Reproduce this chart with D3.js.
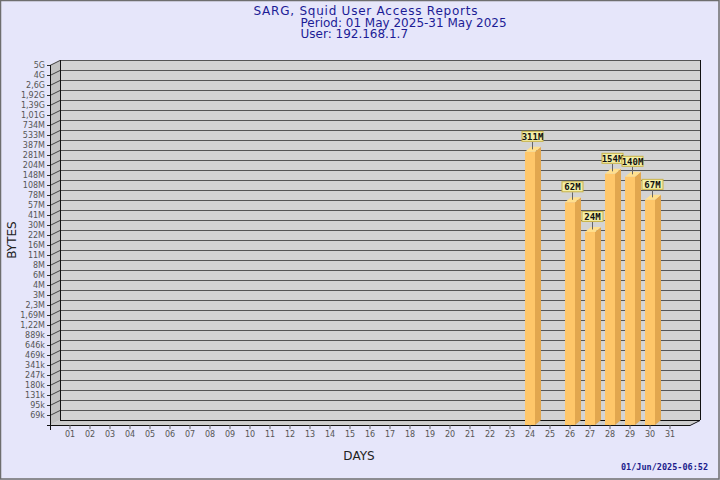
<!DOCTYPE html>
<html><head><meta charset="utf-8">
<script src="https://cdn.jsdelivr.net/npm/d3@7"></script>
<style>body{margin:0;background:#e6e6fa}svg{display:block}</style>
</head><body><svg id="c" width="720" height="480"></svg>
<script>
const titleLines = ["SARG, Squid User Access Reports", "Period: 01 May 2025-31 May 2025", "User: 192.168.1.7"];
const days = ["01","02","03","04","05","06","07","08","09","10","11","12","13","14","15","16","17","18","19","20","21","22","23","24","25","26","27","28","29","30","31"];
const barDays = ["24","26","27","28","29","30"];
const barValues = [311e6, 62e6, 24e6, 154e6, 140e6, 67e6];
const barLabels = ["311M","62M","24M","154M","140M","67M"];
const yTickLabels = ["69k","95k","131k","180k","247k","341k","469k","646k","889k","1,22M","1,69M","2,3M","3M","4M","6M","8M","11M","16M","22M","30M","41M","57M","78M","108M","148M","204M","281M","387M","533M","734M","1,01G","1,39G","1,92G","2,6G","4G","5G"];
const yMin = 5e4, yMax = 5e9;
const xLabel = "DAYS", yLabel = "BYTES", stamp = "01/Jun/2025-06:52";

const svg = d3.select("#c");
const W = 720, H = 480;
const DX = 10, DY = 5;       // wall depth
const BX = 6, BY = 5;        // bar depth
const pL = 50, pR = 690, pT = 65, pB = 425;

svg.append("rect").attr("x",0.5).attr("y",0.5).attr("width",W-1.5).attr("height",H-1.5)
  .attr("fill","#e6e6fa").attr("stroke","#6e6e6e").attr("stroke-width",1.5);

const y = d3.scaleLog().domain([yMin, yMax]).range([pB, pT]);
const x = d3.scaleBand().domain(days).range([pL+DX, pR-DX]);
const tickVals = yTickLabels.map((_, i) => yMin * Math.pow(yMax / yMin, (i + 1) / yTickLabels.length));

// back wall
svg.append("rect").attr("x", pL+DX).attr("y", pT-DY).attr("width", pR-pL).attr("height", pB-pT)
  .attr("fill", "#d3d3d3");
// side wall
svg.append("polygon").attr("points", [[pL,pT],[pL+DX,pT-DY],[pL+DX,pB-DY],[pL,pB]].join(" "))
  .attr("fill", "#c2c2c2");
// floor
svg.append("polygon").attr("points", [[pL,pB],[pL+DX,pB-DY],[pR+DX,pB-DY],[pR,pB]].join(" "))
  .attr("fill", "#cdcdcd");

const g = svg.append("g").attr("shape-rendering","crispEdges");
g.selectAll("line.grid").data(tickVals).join("line").attr("class","grid")
  .attr("x1", pL+DX).attr("x2", pR+DX)
  .attr("y1", d => Math.round(y(d)) - DY + 0.5).attr("y2", d => Math.round(y(d)) - DY + 0.5)
  .attr("stroke", "#555").attr("stroke-width", 1);
svg.selectAll("line.conn").data(tickVals).join("line").attr("class","conn")
  .attr("x1", pL).attr("x2", pL+DX)
  .attr("y1", d => Math.round(y(d)) + 0.5).attr("y2", d => Math.round(y(d)) - DY + 0.5)
  .attr("stroke", "#444").attr("stroke-width", 1);
g.append("line").attr("x1",pL+DX+0.5).attr("x2",pL+DX+0.5).attr("y1",pT-DY).attr("y2",pB-DY).attr("stroke","#111");
g.append("line").attr("x1",pR+DX+0.5).attr("x2",pR+DX+0.5).attr("y1",pT-DY).attr("y2",pB-DY).attr("stroke","#111");
g.append("line").attr("x1",pL+DX).attr("x2",pR+DX).attr("y1",pB-DY+0.5).attr("y2",pB-DY+0.5).attr("stroke","#111");
svg.append("line").attr("x1",pR).attr("x2",pR+DX).attr("y1",pB+0.5).attr("y2",pB-DY+0.5).attr("stroke","#111");

// bars
const bars = barDays.map((d, i) => ({day: d, v: barValues[i], label: barLabels[i]}));
const bw = x.bandwidth();
const bg = svg.append("g");
bars.forEach(b => {
  const c = x(b.day) + bw / 2;
  const yt = y(b.v);
  bg.append("polygon").attr("points", [[c+5,yt],[c+5+BX,yt-BY],[c+5+BX,pB-BY],[c+5,pB]].join(" "))
    .attr("fill", "#e2a74f");
  bg.append("polygon").attr("points", [[c-5,yt],[c-5+BX,yt-BY],[c+5+BX,yt-BY],[c+5,yt]].join(" "))
    .attr("fill", "#ffe08e");
  bg.append("rect").attr("x", c-5).attr("y", yt).attr("width", 10).attr("height", pB-yt)
    .attr("fill", "#ffc76a");
});

// front axes
const yAxis = d3.axisLeft(y).tickValues(tickVals).tickFormat((d, i) => yTickLabels[i]).tickSize(3).tickPadding(2);
const ya = svg.append("g").attr("transform", `translate(${pL},0)`).call(yAxis);
ya.select(".domain").attr("d", `M0.5,${pT}V${pB+5}`).attr("stroke","#111");
ya.selectAll(".tick line").attr("stroke","#333");
ya.selectAll("text").attr("fill","#555").style("font-family","DejaVu Sans").style("font-size","8px");
const xAxis = d3.axisBottom(x).tickSize(4).tickPadding(2);
const xa = svg.append("g").attr("transform", `translate(0,${pB})`).call(xAxis);
xa.select(".domain").attr("d", `M${pL-3},0.5H${pR}`).attr("stroke","#111");
xa.selectAll(".tick line").attr("stroke","#666");
xa.selectAll("text").attr("fill","#555").style("font-family","DejaVu Sans").style("font-size","8px");

// value labels
const lg = svg.append("g");
bars.forEach(b => {
  const c = x(b.day) + bw / 2 + 2.5;
  const yt = y(b.v);
  lg.append("line").attr("x1", c).attr("x2", c).attr("y1", yt-10).attr("y2", yt-2.5)
    .attr("stroke", "#666").attr("stroke-width", 1);
  lg.append("rect").attr("x", c-10.5).attr("y", yt-20.5).attr("width", 21).attr("height", 10)
    .attr("fill", "#f3eea6").attr("stroke", "#c9b348").attr("stroke-width", 1);
  lg.append("text").attr("x", c).attr("y", yt-12.3).attr("text-anchor","middle")
    .style("font-family","DejaVu Sans Mono").style("font-weight","bold").style("font-size","9px")
    .attr("fill","#111").text(b.label);
});

// titles
const tcol = "#1c1c96";
svg.append("text").attr("x", 253.5).attr("y", 15).attr("textLength", 224).attr("lengthAdjust","spacing")
  .style("font-family","DejaVu Sans").style("font-size","12px").attr("fill",tcol).text(titleLines[0]);
svg.append("text").attr("x", 300.5).attr("y", 26.5).style("font-family","DejaVu Sans").style("font-size","12px")
  .attr("fill",tcol).text(titleLines[1]);
svg.append("text").attr("x", 300.5).attr("y", 37.5).style("font-family","DejaVu Sans").style("font-size","12px")
  .attr("fill",tcol).text(titleLines[2]);

svg.append("text").attr("x", 359).attr("y", 460).attr("text-anchor","middle")
  .style("font-family","DejaVu Sans").style("font-size","12px").attr("fill","#222").text(xLabel);
svg.append("text").attr("transform","translate(16,240) rotate(-90)").attr("text-anchor","middle")
  .style("font-family","DejaVu Sans").style("font-size","12px").attr("fill","#222").text(yLabel);
svg.append("text").attr("x", 708).attr("y", 470).attr("text-anchor","end")
  .style("font-family","DejaVu Sans Mono").style("font-weight","bold").style("font-size","8.5px")
  .attr("fill","#1c1c8c").text(stamp);
</script></body></html>
